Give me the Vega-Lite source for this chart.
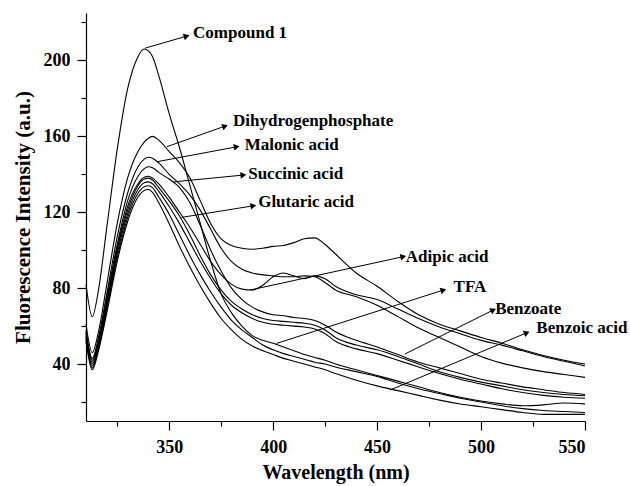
{
  "$schema": "https://vega.github.io/schema/vega-lite/v6.json",
  "width": 499,
  "height": 408,
  "autosize": {"type": "none"},
  "padding": {"left": 86, "top": 13, "right": 45, "bottom": 65},
  "background": "white",
  "config": {
    "view": {"stroke": null},
    "font": "Liberation Serif",
    "axis": {
      "domainColor": "black", "domainWidth": 1.2, "tickColor": "black", "tickWidth": 1.2,
      "labelFont": "Liberation Serif", "labelFontWeight": "bold", "labelFontSize": 18, "labelColor": "black",
      "titleFont": "Liberation Serif", "titleFontWeight": "bold", "titleFontSize": 21, "titleColor": "black",
      "grid": false
    }
  },
  "datasets": {
    "spectra": [
      {"x":310,"C1":82,"DHP":61,"MAL":58,"SUC":57,"A":56,"M1":55,"M2":54,"L2":53,"L1":52},
      {"x":313,"C1":65,"DHP":46,"MAL":43,"SUC":42,"A":41,"M1":40,"M2":39,"L2":38,"L1":37},
      {"x":316,"C1":79,"DHP":57,"MAL":54,"SUC":52,"A":51,"M1":50,"M2":49,"L2":48,"L1":47},
      {"x":320,"C1":112,"DHP":82,"MAL":77,"SUC":75,"A":73,"M1":72,"M2":70,"L2":69,"L1":67},
      {"x":325,"C1":153,"DHP":114,"MAL":107,"SUC":103,"A":101,"M1":100,"M2":98,"L2":96,"L1":94},
      {"x":330,"C1":185,"DHP":138,"MAL":130,"SUC":126,"A":123,"M1":121,"M2":119,"L2":117,"L1":115},
      {"x":335,"C1":202,"DHP":152,"MAL":144,"SUC":139,"A":135,"M1":134,"M2":132,"L2":130,"L1":128},
      {"x":338,"C1":206,"DHP":157,"MAL":148,"SUC":143,"A":138.5,"M1":137.5,"M2":135.5,"L2":133.5,"L1":131.5},
      {"x":340,"C1":205,"DHP":159,"MAL":149,"SUC":144,"A":139,"M1":138,"M2":136,"L2":134,"L1":132},
      {"x":342,"C1":202,"DHP":160,"MAL":148.5,"SUC":143.5,"A":138,"M1":137,"M2":135,"L2":133,"L1":130.5},
      {"x":345,"C1":192,"DHP":158,"MAL":146,"SUC":141,"A":135,"M1":133,"M2":131,"L2":128,"L1":125},
      {"x":350,"C1":172,"DHP":152,"MAL":140,"SUC":137.5,"A":128,"M1":126,"M2":123,"L2":119,"L1":114},
      {"x":355,"C1":154,"DHP":146,"MAL":135,"SUC":133,"A":120,"M1":118,"M2":114,"L2":108,"L1":102},
      {"x":360,"C1":134,"DHP":138,"MAL":129,"SUC":125,"A":112,"M1":108,"M2":104,"L2":97,"L1":91},
      {"x":365,"C1":114,"DHP":126,"MAL":121,"SUC":113,"A":103,"M1":97,"M2":94,"L2":87,"L1":81},
      {"x":370,"C1":94,"DHP":114,"MAL":111,"SUC":100,"A":94,"M1":87,"M2":85,"L2":78,"L1":72},
      {"x":375,"C1":77,"DHP":106,"MAL":101,"SUC":89,"A":87,"M1":79,"M2":77,"L2":70,"L1":64},
      {"x":380,"C1":67,"DHP":102.5,"MAL":94,"SUC":80,"A":82,"M1":73,"M2":71,"L2":63,"L1":58},
      {"x":385,"C1":60,"DHP":101,"MAL":90,"SUC":74,"A":79.5,"M1":69,"M2":67,"L2":58,"L1":53},
      {"x":390,"C1":55,"DHP":100.5,"MAL":88,"SUC":70,"A":79,"M1":66,"M2":64,"L2":54,"L1":49.5},
      {"x":395,"C1":52.5,"DHP":101,"MAL":87,"SUC":67.5,"A":81.5,"M1":64,"M2":62,"L2":50,"L1":47},
      {"x":400,"C1":51,"DHP":102,"MAL":86.5,"SUC":66,"A":86,"M1":63,"M2":61,"L2":47.5,"L1":45},
      {"x":405,"C1":49,"DHP":102.5,"MAL":86,"SUC":65.5,"A":88,"M1":62.5,"M2":60.5,"L2":45.5,"L1":43},
      {"x":410,"C1":47,"DHP":104,"MAL":86,"SUC":64.5,"A":86.5,"M1":62,"M2":60,"L2":44,"L1":41.5},
      {"x":415,"C1":45,"DHP":106,"MAL":86.5,"SUC":64,"A":85,"M1":61.5,"M2":59.5,"L2":42.5,"L1":40},
      {"x":420,"C1":43.5,"DHP":106.5,"MAL":86,"SUC":63,"A":86.5,"M1":60.5,"M2":58.5,"L2":41,"L1":38.5},
      {"x":425,"C1":42,"DHP":103,"MAL":83,"SUC":60.5,"A":85,"M1":58,"M2":56,"L2":40,"L1":37},
      {"x":430,"C1":40,"DHP":98,"MAL":79,"SUC":57,"A":81,"M1":54,"M2":52,"L2":38.5,"L1":35},
      {"x":440,"C1":37,"DHP":88,"MAL":75.5,"SUC":52.5,"A":76.5,"M1":50,"M2":48,"L2":36,"L1":31.5},
      {"x":450,"C1":34,"DHP":81,"MAL":71,"SUC":49,"A":74,"M1":47.5,"M2":45.5,"L2":33.5,"L1":28.5},
      {"x":460,"C1":31,"DHP":73,"MAL":65,"SUC":45,"A":69,"M1":44,"M2":42,"L2":30,"L1":26},
      {"x":470,"C1":28,"DHP":66,"MAL":59,"SUC":41,"A":64,"M1":40,"M2":38.5,"L2":27,"L1":23.5},
      {"x":480,"C1":25,"DHP":61,"MAL":54,"SUC":38,"A":59.5,"M1":36,"M2":35,"L2":24.5,"L1":21},
      {"x":490,"C1":22.5,"DHP":57.5,"MAL":49,"SUC":35,"A":56,"M1":33,"M2":32,"L2":22,"L1":19},
      {"x":500,"C1":20.5,"DHP":54,"MAL":44,"SUC":32,"A":52.5,"M1":30.5,"M2":29.5,"L2":20,"L1":17.5},
      {"x":510,"C1":19,"DHP":51,"MAL":40.5,"SUC":30,"A":50,"M1":28.5,"M2":27,"L2":18,"L1":16},
      {"x":520,"C1":18,"DHP":47.5,"MAL":38,"SUC":28,"A":47,"M1":26.5,"M2":25,"L2":16.5,"L1":14.5},
      {"x":530,"C1":18.5,"DHP":44.5,"MAL":36,"SUC":26.5,"A":44,"M1":25,"M2":23.5,"L2":15.5,"L1":13.5},
      {"x":540,"C1":19.5,"DHP":42,"MAL":34.5,"SUC":25,"A":41.5,"M1":24,"M2":22.5,"L2":15,"L1":13.5},
      {"x":550,"C1":19,"DHP":40,"MAL":33,"SUC":24,"A":39,"M1":23.3,"M2":22,"L2":14.5,"L1":13.5}
    ],
    "notes": [
      {"label":"Compound 1","x":338.5,"y":206.5,"x2":358.4,"y2":212.8,"lx":361.5,"ly":214.4},
      {"label":"Dihydrogenphosphate","x":348.8,"y":154.5,"x2":376.9,"y2":165.4,"lx":380.7,"ly":168.2},
      {"label":"Malonic acid","x":344,"y":146.6,"x2":382.5,"y2":154.5,"lx":386.3,"ly":155.2},
      {"label":"Succinic acid","x":352,"y":136,"x2":385.7,"y2":139.6,"lx":388,"ly":140.4},
      {"label":"Glutaric acid","x":356,"y":117.3,"x2":390.5,"y2":123.4,"lx":392.8,"ly":125.5},
      {"label":"Adipic acid","x":388.9,"y":79,"x2":462.6,"y2":96.6,"lx":463.8,"ly":96.2},
      {"label":"TFA","x":401.7,"y":50.9,"x2":481.9,"y2":79,"lx":486.8,"ly":80.4},
      {"label":"Benzoate","x":463.4,"y":45.3,"x2":505.9,"y2":68.5,"lx":506.8,"ly":68.8},
      {"label":"Benzoic acid","x":456.2,"y":26.3,"x2":522,"y2":56.5,"lx":526.6,"ly":59.2}
    ]
  },
  "encoding": {
    "x": {"type": "quantitative",
          "scale": {"domain": [310, 550], "nice": false, "zero": false},
          "axis": {"title": "Wavelength (nm)", "values": [325,350,375,400,425,450,475,500,525,550],
                   "labelExpr": "datum.value % 50 === 0 ? datum.label : ''",
                   "tickSize": {"condition": {"test": "datum.value % 50 === 0", "value": 9}, "value": 5},
                   "labelPadding": 8, "titlePadding": 6, "titleFontSize": 20}},
    "y": {"type": "quantitative",
          "scale": {"domain": [10, 225], "nice": false, "zero": false},
          "axis": {"title": "Fluorescence Intensity (a.u.)", "values": [20,40,60,80,100,120,140,160,180,200,220],
                   "labelExpr": "datum.value % 40 === 0 ? datum.label : ''",
                   "tickSize": {"condition": {"test": "datum.value % 40 === 0", "value": 9}, "value": 5},
                   "labelPadding": 7, "titlePadding": 10}}
  },
  "layer": [
    {
      "data": {"name": "spectra"},
      "transform": [{"fold": ["C1","DHP","MAL","SUC","A","M1","M2","L2","L1"], "as": ["series","value"]}],
      "mark": {"type": "line", "interpolate": "monotone", "color": "black", "strokeWidth": 1.1},
      "encoding": {
        "x": {"field": "x", "type": "quantitative", "title": "Wavelength (nm)"},
        "y": {"field": "value", "type": "quantitative", "title": "Fluorescence Intensity (a.u.)"},
        "detail": {"field": "series"}
      }
    },
    {
      "data": {"name": "notes"},
      "mark": {"type": "rule", "color": "black", "strokeWidth": 1},
      "encoding": {
        "x": {"field": "x", "type": "quantitative", "title": "Wavelength (nm)"},
        "y": {"field": "y", "type": "quantitative", "title": "Fluorescence Intensity (a.u.)"},
        "x2": {"field": "x2"},
        "y2": {"field": "y2"}
      }
    },
    {
      "data": {"name": "notes"},
      "transform": [{"calculate": "atan2(-(datum.y2 - datum.y) * 408 / 215, (datum.x2 - datum.x) * 499 / 240) * 180 / PI", "as": "ang"}],
      "mark": {"type": "point", "shape": "triangle-right", "filled": true, "color": "black", "size": 45, "opacity": 1},
      "encoding": {
        "x": {"field": "x2", "type": "quantitative", "title": "Wavelength (nm)"},
        "y": {"field": "y2", "type": "quantitative", "title": "Fluorescence Intensity (a.u.)"},
        "angle": {"field": "ang", "type": "quantitative", "scale": {"domain": [-360, 360], "range": [-360, 360]}}
      }
    },
    {
      "data": {"name": "notes"},
      "mark": {"type": "text", "align": "left", "baseline": "middle", "font": "Liberation Serif", "fontWeight": "bold", "fontSize": 17, "color": "black"},
      "encoding": {
        "x": {"field": "lx", "type": "quantitative", "title": "Wavelength (nm)"},
        "y": {"field": "ly", "type": "quantitative", "title": "Fluorescence Intensity (a.u.)"},
        "text": {"field": "label"}
      }
    }
  ]
}
